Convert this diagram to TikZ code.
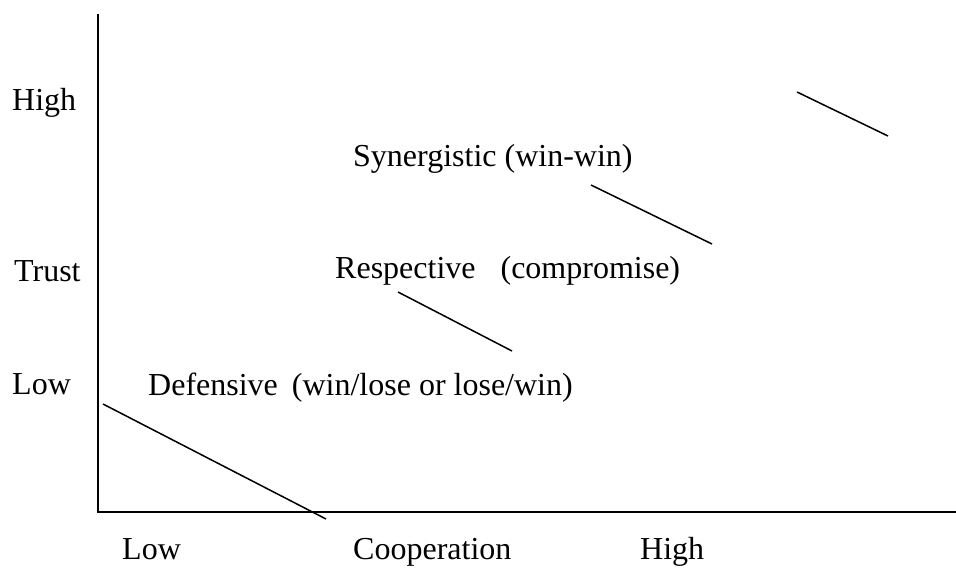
\documentclass[tikz,border=0pt]{standalone}
\usepackage{fontspec}
\setmainfont{Liberation Serif}
\begin{document}
\begin{tikzpicture}[x=1pt,y=-1pt,
  lbl/.style={anchor=base west,inner sep=0pt,font=\fontsize{32}{38}\selectfont},
  axis/.style={line width=1.6pt,black},
  seg/.style={line width=1.5pt,black}]
\useasboundingbox (0,0) rectangle (956,568);
\fill[white] (0,0) rectangle (956,568);
% axes
\coordinate (top) at (98,14);
\coordinate (origin) at (98,512);
\coordinate (right) at (956,512);
\draw[axis] (top) -- (origin) -- (right);
% y labels
\node[lbl] (yhigh) at (12,110) {High};
\node[lbl] (ytrust) at (14,281) {Trust};
\node[lbl] (ylow) at (12,394) {Low};
% x labels
\node[lbl] (xlow) at (122,559) {Low};
\node[lbl] (xcoop) at (353,559) {Cooperation};
\node[lbl] (xhigh) at (640,559) {High};
% region labels
\node[lbl] (syn) at (353,166) {Synergistic (win-win)};
\node[lbl] (resp) at (335,278) {Respective\hspace{25pt}(compromise)};
\node[lbl] (def) at (148,395) {Defensive\hspace{14pt}(win/lose or lose/win)};
% diagonal segments
\coordinate (a1) at (103,404); \coordinate (a2) at (326,519);
\coordinate (b1) at (398,292); \coordinate (b2) at (512,351);
\coordinate (c1) at (591,185); \coordinate (c2) at (712,244);
\coordinate (d1) at (797,92);  \coordinate (d2) at (888,136);
\draw[seg] (a1) -- (a2);
\draw[seg] (b1) -- (b2);
\draw[seg] (c1) -- (c2);
\draw[seg] (d1) -- (d2);
\end{tikzpicture}
\end{document}
